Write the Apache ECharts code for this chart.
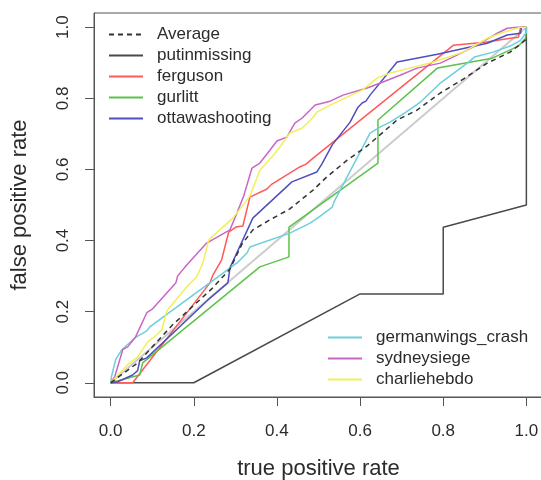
<!DOCTYPE html>
<html><head><meta charset="utf-8">
<script src="https://cdn.jsdelivr.net/npm/echarts@6/dist/echarts.min.js"></script>
<style>html,body{margin:0;padding:0;background:#fff}#c{width:541px;height:480px}</style>
</head><body><div id="c"></div>
<script>
const tickValues = [0, 0.2, 0.4, 0.6, 0.8, 1.0];
const diagonal = [[0,0],[1,1]];
const average = [[0,0],[0.065,0.056],[0.149,0.163],[0.243,0.264],[0.287,0.32],[0.316,0.39],[0.342,0.43],[0.383,0.458],[0.431,0.489],[0.487,0.542],[0.52,0.579],[0.569,0.626],[0.617,0.666],[0.689,0.739],[0.737,0.767],[0.793,0.815],[0.848,0.854],[0.906,0.899],[0.961,0.93],[1,0.966]];
const putinmissing = [[0,0],[0.2,0],[0.6,0.25],[0.8,0.25],[0.8,0.4375],[1,0.5],[1,1]];
const ferguson = [[0,0],[0.053,0],[0.239,0.281],[0.246,0.303],[0.267,0.346],[0.284,0.424],[0.301,0.438],[0.318,0.441],[0.335,0.522],[0.376,0.545],[0.388,0.559],[0.455,0.607],[0.47,0.615],[0.487,0.632],[0.824,0.949],[0.901,0.958],[0.961,0.969],[0.981,0.972],[0.986,1],[1,1]];
const gurlitt = [[0,0],[0.07,0.022],[0.077,0.056],[0.359,0.326],[0.429,0.354],[0.429,0.438],[0.643,0.618],[0.643,0.739],[0.786,0.885],[0.918,0.913],[0.981,0.947],[0.998,0.969],[1,1]];
const ottawashooting = [[0,0],[0.017,0.003],[0.053,0.022],[0.065,0.034],[0.07,0.062],[0.087,0.07],[0.234,0.233],[0.282,0.281],[0.287,0.323],[0.342,0.463],[0.436,0.565],[0.496,0.593],[0.508,0.615],[0.533,0.669],[0.576,0.733],[0.595,0.775],[0.605,0.787],[0.614,0.792],[0.624,0.809],[0.689,0.902],[0.786,0.924],[0.906,0.955],[0.954,0.978],[0.986,0.983],[0.988,1],[1,1]];
const germanwings_crash = [[0,0],[0.002,0.017],[0.012,0.065],[0.027,0.093],[0.058,0.126],[0.087,0.146],[0.094,0.157],[0.304,0.337],[0.328,0.365],[0.335,0.382],[0.431,0.421],[0.48,0.449],[0.504,0.469],[0.533,0.494],[0.537,0.508],[0.624,0.702],[0.648,0.719],[0.672,0.733],[0.706,0.758],[0.745,0.789],[0.793,0.843],[0.858,0.899],[0.875,0.916],[0.92,0.93],[0.961,0.947],[0.986,0.963],[1,0.986],[1,1]];
const sydneysiege = [[0,0],[0.01,0.017],[0.029,0.093],[0.041,0.101],[0.06,0.129],[0.087,0.197],[0.101,0.208],[0.157,0.281],[0.161,0.3],[0.183,0.331],[0.231,0.393],[0.287,0.43],[0.304,0.478],[0.32,0.525],[0.34,0.604],[0.359,0.618],[0.383,0.654],[0.4,0.68],[0.424,0.691],[0.443,0.73],[0.46,0.744],[0.48,0.767],[0.492,0.781],[0.528,0.792],[0.559,0.809],[0.617,0.829],[0.655,0.846],[0.696,0.865],[0.737,0.885],[0.793,0.899],[0.848,0.93],[0.889,0.955],[0.93,0.983],[0.954,0.997],[0.978,1],[1,1]];
const charliehebdo = [[0,0],[0.041,0.051],[0.065,0.073],[0.089,0.115],[0.111,0.135],[0.123,0.149],[0.135,0.202],[0.181,0.267],[0.207,0.298],[0.222,0.337],[0.236,0.402],[0.294,0.463],[0.335,0.525],[0.359,0.598],[0.388,0.635],[0.407,0.663],[0.431,0.702],[0.46,0.716],[0.487,0.747],[0.496,0.761],[0.528,0.781],[0.605,0.823],[0.641,0.857],[0.672,0.871],[0.72,0.885],[0.776,0.902],[0.848,0.93],[0.906,0.969],[0.945,0.986],[0.986,1],[1,1]];
const legendTop = ['Average','putinmissing','ferguson','gurlitt','ottawashooting'];
const legendBottom = ['germanwings_crash','sydneysiege','charliehebdo'];

const FONT = 'Liberation Sans, Arial, sans-serif';
const TXT = '#2b2b2b';
const AX = '#555';
function line(name, data, color, extra) {
  return Object.assign({
    name, type: 'line', data, symbol: 'none', silent: true, animation: false,
    lineStyle: {color, width: 1.5}, itemStyle: {color}
  }, extra || {});
}
const chart = echarts.init(document.getElementById('c'), null, {renderer: 'canvas'});
const legendCommon = {
  orient: 'vertical', padding: 0, itemWidth: 34, itemHeight: 14, itemGap: 4,
  selectedMode: false,
  itemStyle: {opacity: 0, borderWidth: 0},
  textStyle: {fontFamily: FONT, fontSize: 17, color: TXT, lineHeight: 17, padding: [0,0,0,9]}
};
chart.setOption({
  animation: false,
  grid: {left: 94, right: -2, top: 13, bottom: 83, show: true, borderColor: AX, borderWidth: 1,
         backgroundColor: 'transparent', containLabel: false, outerBoundsMode: 'none'},
  xAxis: {
    type: 'value', min: -0.04, max: 1.04,
    name: 'true positive rate', nameLocation: 'middle', nameGap: 61,
    nameTextStyle: {fontFamily: FONT, fontSize: 22, color: TXT},
    axisLine: {show: true, onZero: false, lineStyle: {color: AX}},
    axisTick: {show: true, length: 9, inside: false, customValues: tickValues, lineStyle: {color: AX}},
    axisLabel: {customValues: tickValues, margin: 26, fontFamily: FONT, fontSize: 17, color: TXT, formatter: v => v.toFixed(1)},
    splitLine: {show: false}
  },
  yAxis: {
    type: 'value', min: -0.04, max: 1.04,
    name: 'false positive rate', nameLocation: 'middle', nameGap: 63,
    nameTextStyle: {fontFamily: FONT, fontSize: 22, color: TXT},
    axisLine: {show: true, onZero: false, lineStyle: {color: AX}},
    axisTick: {show: true, length: 9, inside: false, customValues: tickValues, lineStyle: {color: AX}},
    axisLabel: {customValues: tickValues, margin: 22, rotate: 90, fontFamily: FONT, fontSize: 17, color: TXT, formatter: v => v.toFixed(1)},
    splitLine: {show: false}
  },
  legend: [
    Object.assign({}, legendCommon, {left: 108, top: 26, data: legendTop}),
    Object.assign({}, legendCommon, {left: 327, top: 329, data: legendBottom})
  ],
  series: [
    line('diag', diagonal, '#cccccc', {lineStyle: {color: '#cccccc', width: 2}}),
    line('putinmissing', putinmissing, '#4a4a4a'),
    line('ferguson', ferguson, '#ff5a5a'),
    line('gurlitt', gurlitt, '#5cc24a'),
    line('ottawashooting', ottawashooting, '#4f4fbf'),
    line('germanwings_crash', germanwings_crash, '#6ccfdc'),
    line('sydneysiege', sydneysiege, '#c866c8'),
    line('charliehebdo', charliehebdo, '#f0f05a'),
    line('Average', average, '#333333', {lineStyle: {color: '#333333', width: 1.5, type: [5, 4]}})
  ]
});
</script></body></html>
